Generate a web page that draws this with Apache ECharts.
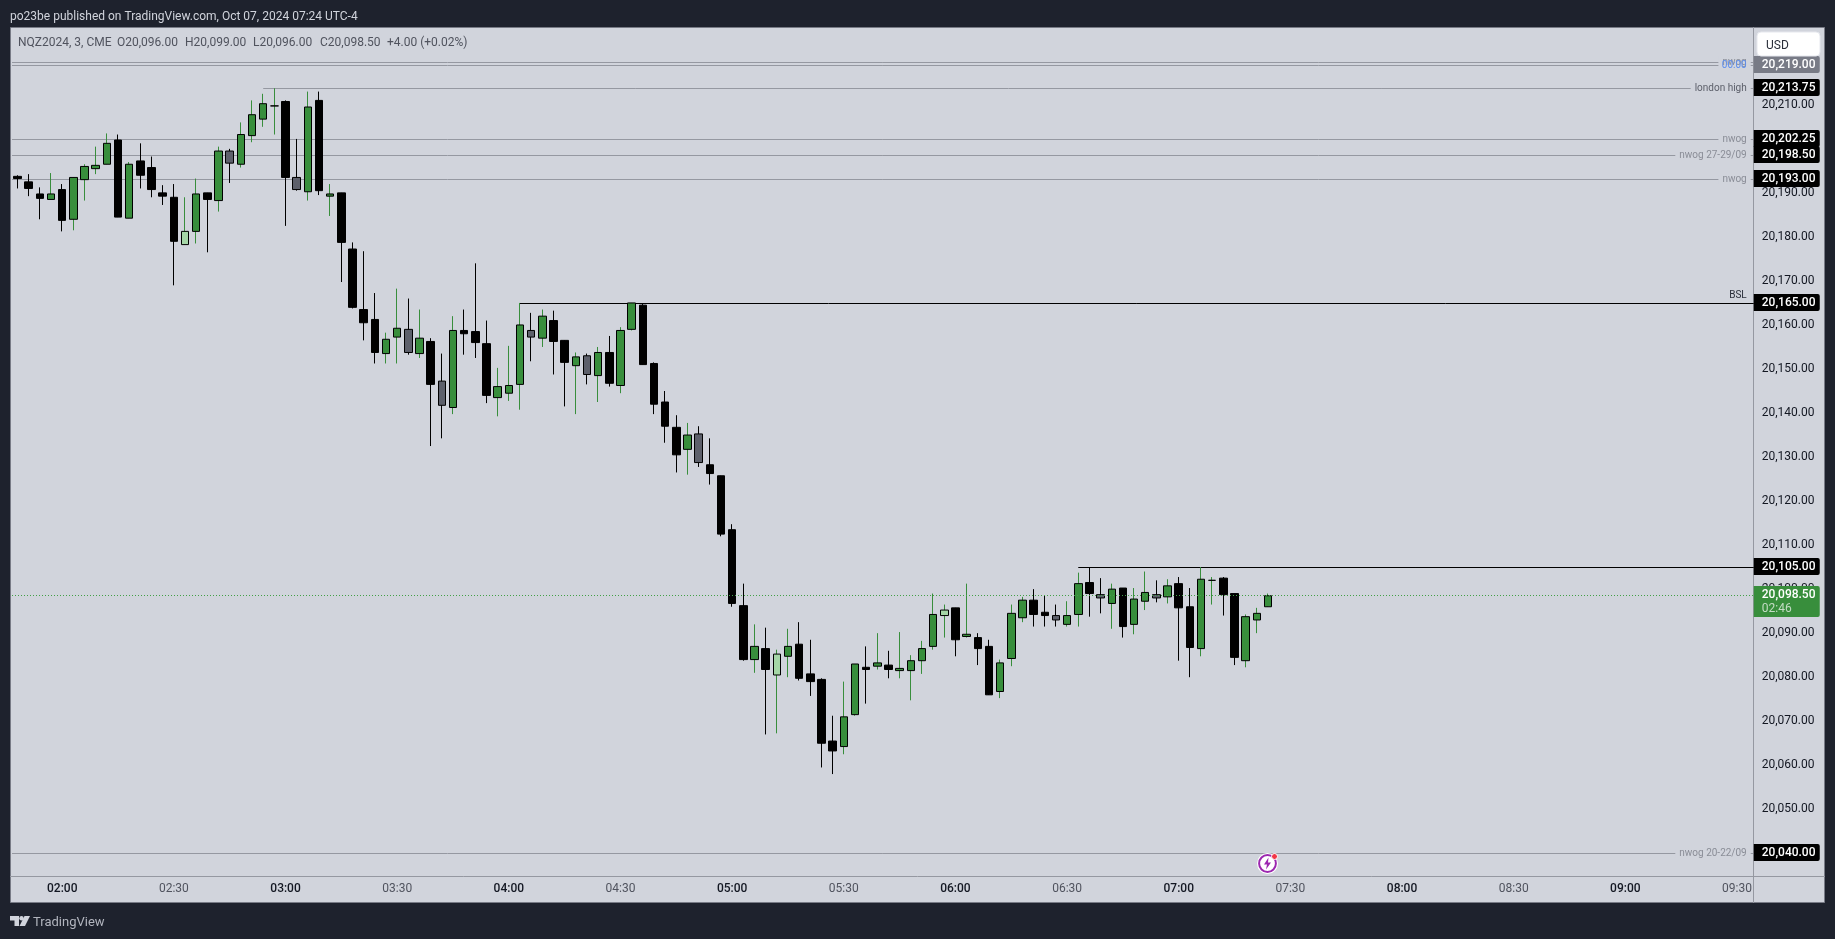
<!DOCTYPE html>
<html>
<head>
<meta charset="UTF-8">
<title>NQZ2024</title>
<script src="https://cdn.jsdelivr.net/npm/echarts@6/dist/echarts.min.js"></script>
<style>
html, body { margin: 0; padding: 0; background: #1e222d; overflow: hidden; }
#chart { width: 1835px; height: 939px; }
</style>
</head>
<body>
<div id="chart"></div>
<script>
// one bar every 3 minutes, the tail of the axis is empty future time
var categories = [
	'01:48','01:51','01:54','01:57','02:00','02:03','02:06','02:09','02:12','02:15','02:18','02:21','02:24','02:27','02:30','02:33','02:36','02:39','02:42','02:45','02:48','02:51','02:54','02:57',
	'03:00','03:03','03:06','03:09','03:12','03:15','03:18','03:21','03:24','03:27','03:30','03:33','03:36','03:39','03:42','03:45','03:48','03:51','03:54','03:57',
	'04:00','04:03','04:06','04:09','04:12','04:15','04:18','04:21','04:24','04:27','04:30','04:33','04:36','04:39','04:42','04:45','04:48','04:51','04:54','04:57',
	'05:00','05:03','05:06','05:09','05:12','05:15','05:18','05:21','05:24','05:27','05:30','05:33','05:36','05:39','05:42','05:45','05:48','05:51','05:54','05:57',
	'06:00','06:03','06:06','06:09','06:12','06:15','06:18','06:21','06:24','06:27','06:30','06:33','06:36','06:39','06:42','06:45','06:48','06:51','06:54','06:57',
	'07:00','07:03','07:06','07:09','07:12','07:15','07:18','07:21','07:24','07:27','07:30','07:33','07:36','07:39','07:42','07:45','07:48','07:51','07:54','07:57',
	'08:00','08:03','08:06','08:09','08:12','08:15','08:18','08:21','08:24','08:27','08:30','08:33','08:36','08:39','08:42','08:45','08:48','08:51','08:54','08:57',
	'09:00','09:03','09:06','09:09','09:12','09:15','09:18','09:21','09:24','09:27','09:30','09:33'
];
var candleOpen = [
	20193.75,20192.5,20189.75,20188.5,20190.75,20184,20193,20195.5,20196.5,20202,20184.25,20197.25,20195.75,20190,20189,20178.25,20181.25,20190,20188.25,20199.5,
	20196.5,20203,20206.75,20209.75,20210.75,20193.5,20190.25,20211,20189.25,20190,20177.25,20163.5,20161.25,20153.5,20157.25,20159,20153.5,20156.25,20147.25,20141.25,
	20158.75,20158.5,20155.75,20143.5,20144.5,20146.5,20158.75,20157,20161,20156.5,20150.75,20153,20148.5,20153.75,20146.25,20159,20164.5,20151.25,20142.5,20136.75,
	20131.75,20135.25,20128.25,20125.75,20113.5,20096.25,20084,20086.5,20080.5,20084.75,20087.5,20080.75,20079.5,20065.5,20064.25,20071.5,20082.25,20082.5,20082.75,20081.5,
	20081.5,20083.75,20087,20094,20095.75,20089.25,20089,20087,20076.75,20084.25,20093.5,20097.5,20094.75,20094,20092,20094.25,20101.5,20098.75,20096.75,20100.25,
	20092,20097.25,20098.75,20098.25,20101.25,20096,20086.5,20102,20102.5,20099,20083.75,20093,20096
];
var candleClose = [
	20193.25,20191,20188.75,20189.75,20183.75,20193.5,20196,20196.25,20201.25,20184.5,20196.5,20194,20190.75,20189.25,20179,20181.25,20189.75,20188.5,20199.5,20196.75,
	20203.25,20207.75,20210.25,20209.75,20193.5,20190.75,20209.5,20190.5,20189.75,20178.75,20164,20160.5,20153.75,20156.75,20159.25,20153.75,20157,20146.5,20141.75,20158.75,
	20158,20156,20144,20146,20146.25,20160,20157.25,20162,20156.25,20151.5,20152.75,20148.75,20153.75,20146.75,20158.75,20165,20151,20142,20137,20130.5,
	20135,20128.75,20126.25,20112.5,20096.75,20084,20087,20081.75,20085.25,20087,20079.75,20079,20065,20063.25,20071,20083,20081.75,20083.25,20081.75,20082,
	20083.75,20086.5,20094.25,20095.25,20088.5,20089.75,20086.5,20076,20083.25,20094.5,20097.5,20094.25,20094,20093,20094,20101.25,20099,20098,20100,20091.5,
	20097.75,20099.25,20098,20100.75,20095.75,20086.75,20102.25,20102,20098.75,20084.5,20093.75,20094.5,20098.5
];
var candleLow = [
	20191,20189.25,20184,20188.5,20181.25,20181.5,20188.25,20194.25,20196.5,20184.5,20184.25,20191,20189,20187.25,20169,20178.25,20178.5,20176.5,20185.75,20192.25,
	20195.75,20201.5,20205,20203.25,20182.5,20190.5,20188.25,20189.5,20184.75,20169.75,20163.75,20156.5,20151.25,20151.25,20151.25,20153.25,20152.5,20132.5,20134.25,20139.75,
	20153.25,20152.5,20142.25,20139.25,20142.75,20140.75,20151.75,20155,20148.75,20141.5,20139.75,20146.5,20142.5,20146,20144.5,20158.75,20151,20139.75,20133.25,20126.5,
	20126,20127.75,20123.75,20112,20096,20083.75,20081,20067,20067.25,20080,20079.25,20075.75,20059.5,20058,20062.5,20071.25,20074,20081.75,20079.75,20079.75,
	20074.75,20080.75,20086.25,20089,20084.75,20089,20082.75,20076,20075.25,20082.5,20092.5,20091.5,20091.5,20091.5,20091.5,20091.5,20093.75,20094.5,20091,20089,
	20089.75,20095.25,20097,20096.75,20083.75,20080,20084.75,20096.5,20094,20082.75,20082.25,20090,20096
];
var candleHigh = [
	20194,20194.25,20191.25,20194.5,20192,20193.5,20196.5,20200.5,20203.5,20203.25,20197,20201.25,20198.25,20191.75,20192,20189,20193.25,20190,20200.5,20200,
	20206,20211,20212.5,20213.75,20211,20202.25,20213,20213,20192,20190,20178.75,20176.75,20167.25,20158.25,20168.25,20166,20163.5,20157,20153.5,20162,
	20163.5,20174,20161,20150.25,20155.25,20165,20162.75,20163.5,20163.25,20156.5,20153.75,20153.5,20155,20157.5,20159.5,20165,20164.75,20151.5,20145,20139.5,
	20137.75,20137,20134.25,20125.75,20114.75,20101.25,20092,20091.25,20086.25,20091,20092.5,20088.5,20079.75,20071.25,20079,20083,20087,20090,20086,20090.25,
	20085,20088.25,20099,20096.5,20095.75,20101.25,20090,20088.5,20084,20096.5,20098.25,20100,20098.5,20096.5,20097.25,20103.75,20105,20102.5,20101.25,20100.25,
	20100.25,20104,20102,20102.25,20102.75,20100.25,20105,20102.75,20102.75,20099,20094.25,20095.75,20099
];
// bars the platform greys out or tints pale
var mutedBars = [19, 25, 35, 38, 46, 51, 61, 93, 97, 102];
var paleBars = [15, 68, 83];

var xTickLabels = ['02:00','02:30','03:00','03:30','04:00','04:30','05:00','05:30','06:00','06:30','07:00','07:30','08:00','08:30','09:00','09:30'];
var yTickValues = [20050,20060,20070,20080,20090,20100,20110,20120,20130,20140,20150,20160,20170,20180,20190,20200,20210,20220];

// drawn horizontal levels
var levelPrice = [20219.75, 20219, 20213.75, 20202.25, 20198.5, 20193, 20165, 20105, 20040];
var levelName = ['nwog', '00:00', 'london high', 'nwog', 'nwog 27-29/09', 'nwog', 'BSL', '', 'nwog 20-22/09'];
var levelStart = [0, 0, 22, 0, 0, 0, 45, 95, 0];
var strongLevels = [6, 7];
var lastPrice = 20098.5;
var lastCountdown = '02:46';

var FONT = 'Roboto';
var BG = '#d1d4dc';
var GREEN = '#388e3c';
var GRID_LINE = '#9598a1';

function money(v) {
	return echarts.format.addCommas(v.toFixed(2));
}
// pixel row of a level, so the hairlines stay crisp
function pixelRow(y) {
	return Math.round(y - 0.25);
}
function wickColor(i) {
	return candleClose[i] >= candleOpen[i] ? GREEN : '#000000';
}
function bodyColor(i) {
	if (mutedBars.indexOf(i) >= 0) return '#5d606b';
	if (paleBars.indexOf(i) >= 0) return '#a5d6a7';
	return candleClose[i] >= candleOpen[i] ? GREEN : '#000000';
}

// wick layer: full range, wick colour
var wickData = candleOpen.map(function (o, i) {
	var c = wickColor(i);
	return {
		value: [o, candleClose[i], candleLow[i], candleHigh[i]],
		itemStyle: { color: c, color0: c, borderColor: c, borderColor0: c, borderColorDoji: c }
	};
});
// body layer: open/close only, black outline
var bodyData = candleOpen.map(function (o, i) {
	var c = bodyColor(i);
	var cl = candleClose[i];
	return {
		value: [o, cl, Math.min(o, cl), Math.max(o, cl)],
		itemStyle: { color: c, color0: c, borderColor: '#000000', borderColor0: '#000000', borderColorDoji: '#000000' }
	};
});

function renderLevelLine(params, api) {
	var i = api.value(2);
	var sys = params.coordSys;
	var pt = api.coord([api.value(0), api.value(1)]);
	var x1 = levelStart[i] === 0 ? sys.x : pt[0];
	var x2 = sys.x + sys.width;
	var strong = strongLevels.indexOf(i) >= 0;
	var y = pixelRow(pt[1]) + 0.5;
	return {
		type: 'line',
		shape: { x1: x1, y1: y, x2: x2, y2: y },
		style: { stroke: strong ? '#000000' : GRID_LINE, lineWidth: 1 }
	};
}

function renderLevelText(params, api) {
	var i = api.value(2);
	var name = levelName[i];
	if (!name) return null;
	var sys = params.coordSys;
	var pt = api.coord([api.value(0), api.value(1)]);
	var right = sys.x + sys.width - 3;
	var style = {
		text: name, x: right, y: pixelRow(pt[1]) + 0.5,
		align: 'right', verticalAlign: 'middle',
		font: '10px ' + FONT, fill: '#8a8d97',
		backgroundColor: BG, padding: [0, 4, 0, 4]
	};
	if (name === 'london high') style.fill = '#5d606b';
	if (name === '00:00') { style.fill = '#5b8def'; style.backgroundColor = null; }
	if (i === 0) style.padding = [0, 4, 4, 4];
	if (name === 'BSL') {
		style.fill = '#2a2e39';
		style.y -= 8;
		style.backgroundColor = null;
	}
	return { type: 'text', style: style };
}

function renderTag(params, api) {
	var i = api.value(2);
	var sys = params.coordSys;
	var pt = api.coord([api.value(0), api.value(1)]);
	var x = sys.x + sys.width;
	var y = pixelRow(pt[1]);
	var fill = i === 1 ? '#787b86' : '#000000';
	return {
		type: 'group',
		children: [
			{ type: 'rect', shape: { x: x, y: y - 9, width: 66, height: 17, r: [0, 2, 2, 0] }, style: { fill: fill } },
			{ type: 'text', style: { text: money(api.value(1)), x: x + 8, y: y, verticalAlign: 'middle', font: '500 12px ' + FONT, fill: '#ffffff' } }
		]
	};
}

function renderLast(params, api) {
	var sys = params.coordSys;
	var pt = api.coord([api.value(0), api.value(1)]);
	var x = sys.x + sys.width;
	var y = pixelRow(pt[1]);
	return {
		type: 'group',
		children: [
			{ type: 'line', shape: { x1: sys.x, y1: y + 0.5, x2: x, y2: y + 0.5 }, style: { stroke: '#43a047', lineWidth: 1, lineDash: [1, 2] } },
			{ type: 'rect', shape: { x: x, y: y - 9, width: 66, height: 31, r: [0, 2, 2, 0] }, style: { fill: GREEN } },
			{ type: 'text', style: { text: money(api.value(1)), x: x + 8, y: y, verticalAlign: 'middle', font: '500 12px ' + FONT, fill: '#ffffff' } },
			{ type: 'text', style: { text: lastCountdown, x: x + 8, y: y + 14, verticalAlign: 'middle', font: '12px ' + FONT, fill: '#c3dcc4' } }
		]
	};
}

var levelRows = levelPrice.map(function (p, i) { return [levelStart[i], p, i]; });
var tagRows = levelRows.filter(function (r) { return r[2] !== 0; });
var topInk = '#d1d4dc';

var chart = echarts.init(document.getElementById('chart'), null, { renderer: 'canvas' });
chart.setOption({
	animation: false,
	backgroundColor: '#1e222d',
	textStyle: { fontFamily: FONT },
	grid: { left: 12, top: 27, width: 1741.74, height: 849, containLabel: false },
	xAxis: {
		type: 'category',
		data: categories,
		boundaryGap: true,
		axisLine: { show: false },
		axisTick: { show: false },
		splitLine: { show: false },
		axisLabel: {
			margin: 7,
			hideOverlap: false,
			interval: function (index, value) { return xTickLabels.indexOf(value) >= 0; },
			formatter: function (value) {
				return value.slice(3) === '00' ? '{hour|' + value + '}' : '{half|' + value + '}';
			},
			rich: {
				hour: { fontFamily: FONT, fontSize: 12, fontWeight: 500, color: '#131722' },
				half: { fontFamily: FONT, fontSize: 12, color: '#50535e' }
			}
		}
	},
	yAxis: {
		type: 'value',
		position: 'right',
		min: 20034.85,
		max: 20227.67,
		axisLine: { show: false },
		axisTick: { show: false },
		splitLine: { show: false },
		axisLabel: {
			customValues: yTickValues,
			margin: 8,
			hideOverlap: false,
			fontFamily: FONT,
			fontSize: 12,
			color: '#131722',
			padding: [0, 0, 2, 0],
			formatter: function (v) { return money(v); }
		}
	},
	series: [
		{ type: 'custom', name: 'levels', z: 1, data: levelRows, encode: { x: 0, y: 1 }, renderItem: renderLevelLine },
		{ type: 'custom', name: 'levelNames', z: 1.5, data: levelRows, encode: { x: 0, y: 1 }, renderItem: renderLevelText },
		{ type: 'candlestick', name: 'wicks', z: 2, barWidth: 1, itemStyle: { borderWidth: 1 }, data: wickData },
		{ type: 'candlestick', name: 'bodies', z: 3, barWidth: 8, itemStyle: { borderWidth: 1 }, data: bodyData },
		{ type: 'custom', name: 'last', z: 6, data: [[112, lastPrice]], encode: { x: 0, y: 1 }, renderItem: renderLast },
		{ type: 'custom', name: 'tags', z: 7, data: tagRows, encode: { x: 0, y: 1 }, renderItem: renderTag }
	],
	graphic: [
		// panel and frame
		{ type: 'rect', z: -1, shape: { x: 10.5, y: 27.5, width: 1814, height: 875 }, style: { fill: BG, stroke: '#787b86', lineWidth: 1 } },
		{ type: 'line', z: 1, shape: { x1: 10, y1: 876.5, x2: 1825, y2: 876.5 }, style: { stroke: GRID_LINE, lineWidth: 1 } },
		{ type: 'line', z: 1, shape: { x1: 1753.5, y1: 27, x2: 1753.5, y2: 903 }, style: { stroke: GRID_LINE, lineWidth: 1 } },
		// header text
		{ type: 'text', z: 1, style: { text: 'po23be published on TradingView.com, Oct 07, 2024 07:24 UTC-4', x: 10, y: 17, verticalAlign: 'middle', font: '12px ' + FONT, fill: topInk } },
		{ type: 'text', z: 1, style: { text: 'NQZ2024, 3, CME', x: 18, y: 43, verticalAlign: 'middle', font: '12px ' + FONT, fill: '#50535e' } },
		{ type: 'text', z: 1, style: { text: 'O20,096.00', x: 117, y: 43, verticalAlign: 'middle', font: '12px ' + FONT, fill: '#50535e' } },
		{ type: 'text', z: 1, style: { text: 'H20,099.00', x: 185, y: 43, verticalAlign: 'middle', font: '12px ' + FONT, fill: '#50535e' } },
		{ type: 'text', z: 1, style: { text: 'L20,096.00', x: 253, y: 43, verticalAlign: 'middle', font: '12px ' + FONT, fill: '#50535e' } },
		{ type: 'text', z: 1, style: { text: 'C20,098.50', x: 320, y: 43, verticalAlign: 'middle', font: '12px ' + FONT, fill: '#50535e' } },
		{ type: 'text', z: 1, style: { text: '+4.00 (+0.02%)', x: 387, y: 43, verticalAlign: 'middle', font: '12px ' + FONT, fill: '#50535e' } },
		// currency button
		{ type: 'rect', z: 20, shape: { x: 1757, y: 32, width: 63, height: 24, r: 4 }, style: { fill: '#ffffff', stroke: '#e6e8ee', lineWidth: 1 } },
		{ type: 'text', z: 21, style: { text: 'USD', x: 1766, y: 46, verticalAlign: 'middle', font: '12px ' + FONT, fill: '#2a2e39' } },
		// publisher mark
		{ type: 'polygon', z: 1, shape: { points: [[10, 916], [19, 916], [19, 926], [14.5, 926], [14.5, 920.5], [10, 920.5]] }, style: { fill: topInk } },
		{ type: 'circle', z: 1, shape: { cx: 21.5, cy: 918.2, r: 2.2 }, style: { fill: topInk } },
		{ type: 'polygon', z: 1, shape: { points: [[24.5, 916], [30, 916], [25, 926], [19.5, 926]] }, style: { fill: topInk } },
		{ type: 'text', z: 1, style: { text: 'TradingView', x: 33, y: 922.5, verticalAlign: 'middle', font: '13px ' + FONT, fill: '#b2b5be' } },
		// alert badge
		{ type: 'circle', z: 8, shape: { cx: 1267.5, cy: 863.5, r: 10.5 }, style: { fill: '#ffffff' } },
		{ type: 'circle', z: 9, shape: { cx: 1267.5, cy: 863.5, r: 8.4 }, style: { fill: '#ffffff', stroke: '#9c27b0', lineWidth: 2 } },
		{ type: 'polygon', z: 10, shape: { points: [[1268.5, 857.5], [1264, 864.5], [1267, 864.5], [1266, 869.5], [1271, 862.5], [1268, 862.5]] }, style: { fill: '#9c27b0' } },
		{ type: 'circle', z: 11, shape: { cx: 1274.5, cy: 856.5, r: 3 }, style: { fill: '#f23645', stroke: '#ffffff', lineWidth: 1 } }
	]
});
</script>
</body>
</html>
